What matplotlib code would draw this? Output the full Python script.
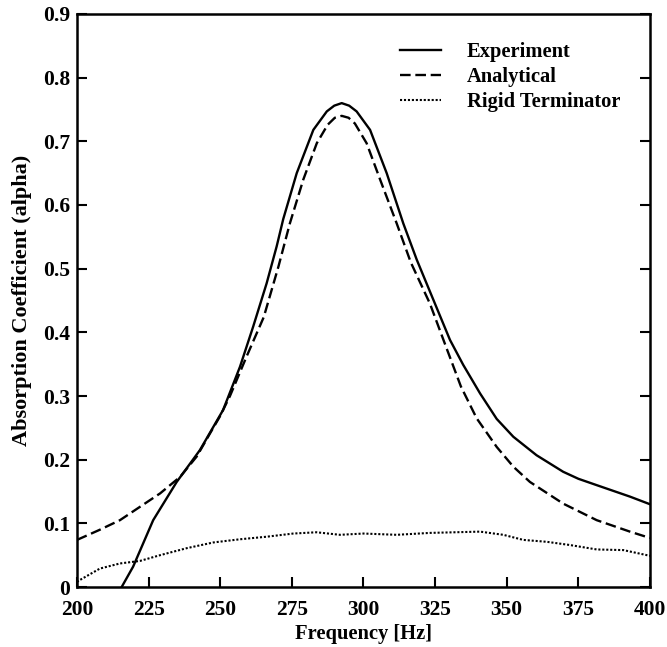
import matplotlib
matplotlib.use("Agg")
import matplotlib.pyplot as plt

plt.rcParams['font.family'] = ['Liberation Serif', 'DejaVu Serif']
plt.rcParams['font.weight'] = 'bold'

exp_f = [215.6, 219.6, 226.6, 234.8, 242.9, 251.0, 256.9, 261.5, 266.2, 269.7, 272.0,
         276.7, 282.5, 287.2, 289.8, 292.4, 295.0, 297.6, 302.3, 308.1, 313.9, 318.6,
         324.4, 330.2, 334.8, 340.7, 346.5, 352.3, 360.4, 369.7, 375.0, 381.4, 393.0, 400.0]
exp_a = [0.0, 0.032, 0.105, 0.165, 0.215, 0.278, 0.346, 0.409, 0.477, 0.535, 0.578,
         0.650, 0.718, 0.747, 0.756, 0.760, 0.756, 0.747, 0.718, 0.650, 0.571, 0.514,
         0.451, 0.388, 0.349, 0.304, 0.264, 0.236, 0.207, 0.181, 0.170, 0.160, 0.142, 0.130]

ana_f = [200.0, 208.0, 215.0, 222.0, 229.0, 236.0, 241.8, 246.4, 249.9, 253.4, 259.2,
         265.2, 270.3, 274.3, 279.0, 283.7, 287.5, 290.0, 292.4, 294.8, 297.0, 301.1,
         305.8, 311.6, 316.5, 323.2, 329.0, 334.0, 339.5, 346.5, 352.3, 358.1, 369.7,
         381.4, 393.0, 400.0]
ana_a = [0.074, 0.090, 0.105, 0.126, 0.147, 0.173, 0.205, 0.241, 0.268, 0.300, 0.362,
         0.424, 0.503, 0.571, 0.640, 0.697, 0.726, 0.737, 0.740, 0.737, 0.728, 0.697,
         0.640, 0.571, 0.510, 0.445, 0.375, 0.315, 0.265, 0.220, 0.189, 0.165, 0.131,
         0.105, 0.087, 0.077]

rig_f = [200.0, 201.0, 208.0, 215.0, 222.0, 229.0, 238.3, 247.6, 256.9, 266.2, 275.5,
         283.6, 291.8, 300.0, 311.6, 323.2, 340.7, 348.8, 355.8, 364.0, 372.0, 381.4,
         390.7, 400.0]
rig_a = [0.008, 0.011, 0.029, 0.037, 0.041, 0.050, 0.061, 0.070, 0.075, 0.079, 0.084,
         0.086, 0.082, 0.084, 0.082, 0.085, 0.087, 0.082, 0.074, 0.071, 0.066, 0.059,
         0.058, 0.049]

xticks = [200, 225, 250, 275, 300, 325, 350, 375, 400]
yticks = [0, 0.1, 0.2, 0.3, 0.4, 0.5, 0.6, 0.7, 0.8, 0.9]
ytick_labels = ['0', '0.1', '0.2', '0.3', '0.4', '0.5', '0.6', '0.7', '0.8', '0.9']

fig = plt.figure(figsize=(6.67, 6.47), dpi=100)
ax = fig.add_axes([0.1154, 0.0927, 0.8591, 0.8857])

ax.plot(exp_f, exp_a, color='black', lw=1.7, ls='-', label='Experiment')
ax.plot(ana_f, ana_a, color='black', lw=1.7, ls=(0, (4.5, 2)), label='Analytical')
ax.plot(rig_f, rig_a, color='black', lw=1.5, ls=(0, (1, 0.9)), label='Rigid Terminator')

ax.set_xlim(200, 400)
ax.set_ylim(0, 0.9)
ax.set_xticks(xticks)
ax.set_yticks(yticks)
ax.set_yticklabels(ytick_labels)
ax.tick_params(axis='both', direction='in', length=7, width=1.5, labelsize=15.5,
               right=True, top=False)
ax.tick_params(axis='x', pad=9)
ax.tick_params(axis='y', pad=5)
for lab in ax.get_xticklabels() + ax.get_yticklabels():
    lab.set_fontweight('bold')
for sp in ax.spines.values():
    sp.set_linewidth(1.8)

ax.set_xlabel('Frequency [Hz]', fontsize=14.8, fontweight='bold', labelpad=3)
ax.set_ylabel('Absorption Coefficient (alpha)', fontsize=16, fontweight='bold', labelpad=8)

leg = ax.legend(loc='upper left', bbox_to_anchor=(0.5637, 0.951), frameon=False,
                borderpad=0, borderaxespad=0,
                fontsize=14.8, handlelength=2.0, handletextpad=1.25, labelspacing=0.25)
for t in leg.get_texts():
    t.set_fontweight('bold')

fig.savefig('out.png', dpi=100)
